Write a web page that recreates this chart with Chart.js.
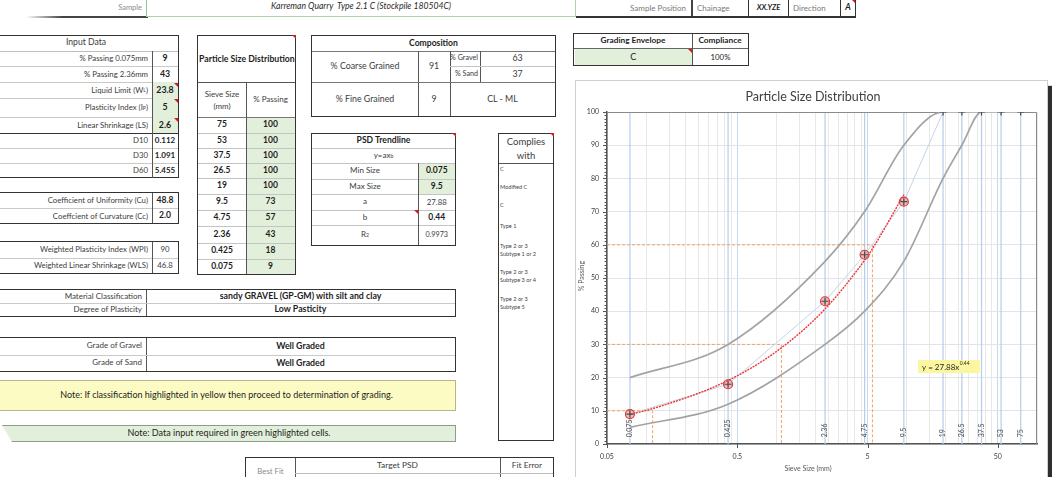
<!DOCTYPE html>
<html>
<head>
<meta charset="utf-8">
<script src="https://cdn.jsdelivr.net/npm/chart.js@4.4.1/dist/chart.umd.min.js"></script>
<style>
html,body{margin:0;padding:0;background:#fff;}
body{width:1052px;height:477px;overflow:hidden;position:relative;font-family:Lato,"Open Sans",sans-serif;}
.c{position:absolute;display:flex;align-items:center;justify-content:center;text-align:center;white-space:nowrap;box-sizing:border-box;font-size:8px;color:#1e1e1e;line-height:1.15;}
.r{justify-content:flex-end;padding-right:4px;text-align:right;}
.l{justify-content:flex-start;padding-left:3px;text-align:left;}
.b{font-weight:700;}
.i{font-style:italic;}
.g{background:#e2efda;}
.m{color:#3c3c3c;}
.box{position:absolute;box-sizing:border-box;border:1.5px solid #333;}
.ln{position:absolute;}
.tri{position:absolute;width:0;height:0;border-top:4px solid #d41c1c;border-left:4px solid transparent;}
sub{font-size:65%;vertical-align:-2px;line-height:0;}
sup{font-size:65%;vertical-align:3px;line-height:0;}
#frame{position:absolute;left:575px;top:80px;width:473px;height:420px;box-sizing:border-box;border:1px solid #cfcfcf;box-shadow:4px 6px 1px #2e2e2e;background:#fff;}
#psd{position:absolute;left:576px;top:81px;}
</style>
</head>
<body>
<div id="sheet"></div>
<div id="frame"></div>
<canvas id="psd" width="470" height="396"></canvas>
<script>
// ---- sieve analysis ----
const sieveSizes = [75, 53, 37.5, 26.5, 19, 9.5, 4.75, 2.36, 0.425, 0.075];
const sieveLabels = ['75', '53', '37.5', '26.5', '19', '9.5', '4.75', '2.36', '0.425', '0.075'];
const percentPassing = [100, 100, 100, 100, 100, 73, 57, 43, 18, 9];

// ---- grading envelope C, limits at the same sieves ----
const envelopeUpper = [100, 100, 100, 100, 100, 90, 70, 55, 30, 20];
const envelopeLower = [100, 100, 100, 90, 80, 55, 40, 30, 12, 5];

// ---- power-law trendline y = a * x^b ----
const trendA = 27.88;
const trendB = 0.44;
const trendMinSize = 0.075;
const trendMaxSize = 9.5;
const trendR2 = 0.9973;

// ---- characteristic sizes ----
const dLabels = ['D10', 'D30', 'D60'];
const dPercents = [10, 30, 60];
const dSizes = [0.112, 1.091, 5.455];

// ---- axis ticks ----
const xTickValues = [0.05, 0.5, 5, 50];
const xTickLabels = ['0.05', '0.5', '5', '50'];
const xAxisMax = 100;

// ---- sheet values ----
const inputLabels = ['% Passing 0.075mm', '% Passing 2.36mm', 'Liquid Limit (W<sub>L</sub>)', 'Plasticity Index (I<sub>P</sub>)', 'Linear Shrinkage (LS)'];
const inputValues = ['9', '43', '23.8', '5', '2.6'];
const coeffLabels = ['Coefficient of Uniformity (Cu)', 'Coeffcient of Curvature (Cc)'];
const coeffValues = ['48.8', '2.0'];
const weightedLabels = ['Weighted Plasticity Index (WPI)', 'Weighted Linear Shrinkage (WLS)'];
const weightedValues = ['90', '46.8'];
const compliesList = ['C', 'Modified C', 'C', 'Type 1', 'Type 2 or 3<br>Subtype 1 or 2', 'Type 2 or 3<br>Subtype 3 or 4', 'Type 2 or 3<br>Subtype 5'];

const FONT = 'Lato, "Open Sans", sans-serif';
const sheet = document.getElementById('sheet');

function cell(x, y, w, h, html, cls, css) {
  const d = document.createElement('div');
  d.className = 'c ' + (cls || '');
  Object.assign(d.style, { left: x + 'px', top: y + 'px', width: w + 'px', height: h + 'px' }, css || {});
  d.innerHTML = html;
  sheet.appendChild(d);
  return d;
}
function box(x, y, w, h, css) {
  const d = document.createElement('div');
  d.className = 'box';
  Object.assign(d.style, { left: x + 'px', top: y + 'px', width: w + 'px', height: h + 'px' }, css || {});
  sheet.appendChild(d);
  return d;
}
function hline(x1, x2, y, color, wdt) {
  const d = document.createElement('div');
  d.className = 'ln';
  Object.assign(d.style, { left: x1 + 'px', top: y + 'px', width: (x2 - x1) + 'px', height: (wdt || 1) + 'px', background: color || '#c8c8c8' });
  sheet.appendChild(d);
}
function vline(x, y1, y2, color, wdt) {
  const d = document.createElement('div');
  d.className = 'ln';
  Object.assign(d.style, { left: x + 'px', top: y1 + 'px', width: (wdt || 1) + 'px', height: (y2 - y1) + 'px', background: color || '#555' });
  sheet.appendChild(d);
}
function tri(xRight, yTop) {
  const d = document.createElement('div');
  d.className = 'tri';
  d.style.left = (xRight - 4) + 'px';
  d.style.top = yTop + 'px';
  sheet.appendChild(d);
}

// ---- header row ----
cell(20, 0, 126, 16, 'Sample', 'r', { color: '#8a8a8a', fontSize: '7.5px' });
const ul = document.createElement('div');
Object.assign(ul.style, { position: 'absolute', left: '26px', top: '16px', width: '122px', height: '1.5px', background: 'linear-gradient(to right, rgba(60,60,60,0), #444 30%)' });
sheet.appendChild(ul);
cell(146, -2, 430, 19, 'Karreman Quarry&nbsp; Type 2.1 C (Stockpile 180504C)', 'i', { fontSize: '8.6px', color: '#2a2a2a', borderLeft: '1.5px solid #8cc596', borderBottom: '1px solid #a8d5b0', borderRight: '1px solid #a8d5b0' });
cell(576, 0, 114, 17, 'Sample Position', 'r', { color: '#7a7a7a' });
vline(691, 0, 17, '#444', 1.5);
cell(694, 0, 50, 17, 'Chainage', 'l', { color: '#7a7a7a' });
box(748, -2, 41, 19);
cell(749, 0, 39, 16, 'XX.YZE', 'b i', { fontSize: '7.5px' });
cell(790, 0, 48, 17, 'Direction', 'l', { color: '#7a7a7a' });
box(840, -2, 16, 19);
cell(841, 0, 14, 16, 'A', 'b i', { fontSize: '8.5px' });
tri(855, -1);
hline(576, 856, 16, '#333', 1.5);

// ---- grading envelope ----
box(573, 33, 176, 33);
cell(574, 34, 118, 14, 'Grading Envelope', 'b', { fontSize: '8.3px' });
cell(692, 34, 56, 14, 'Compliance', 'b', { fontSize: '8.3px' });
hline(574, 748, 48, '#666');
vline(692, 34, 65, '#555');
cell(574.5, 49, 117.5, 15.5, 'C', 'g', { fontSize: '9px' });
cell(693, 49, 55, 16, '100%', '', { fontSize: '7.8px' });
tri(692, 49);

// ---- input data ----
box(-3, 35, 182, 143);
cell(0, 35, 172, 16, 'Input Data', 'm', { fontSize: '8.6px' });
const inputRows = [51, 66, 82, 98, 117, 133];
hline(0, 178, 51, '#bdbdbd');
for (let i = 0; i < inputLabels.length; i++) {
  const y0 = inputRows[i], y1 = inputRows[i + 1];
  const green = i >= 2;
  cell(0, y0, 152, y1 - y0, inputLabels[i], 'r m', { fontSize: '7.8px' });
  cell(152.5, y0, 25, y1 - y0, inputValues[i], 'b' + (green ? ' g' : ''), { fontSize: '8.8px' });
  if (i < inputLabels.length - 1) hline(0, 178, y1, '#c9c9c9');
  if (green) tri(178, y0 + 0.5);
}
hline(-3, 179, 132.5, '#333', 1.5);
const dRows = [133, 148, 163, 178];
for (let i = 0; i < dLabels.length; i++) {
  cell(0, dRows[i], 152, 15, dLabels[i], 'r m', { fontSize: '7.8px' });
  cell(152.5, dRows[i], 25, 15, String(dSizes[i].toFixed(3)), 'b', { fontSize: '8px' });
  if (i < 2) hline(0, 178, dRows[i + 1], '#c9c9c9');
}
vline(152, 51, 178, '#555');

box(-3, 192, 182, 32);
for (let i = 0; i < 2; i++) {
  cell(0, 193 + i * 15.5, 152, 15, coeffLabels[i], 'r m', { fontSize: '7.8px' });
  cell(152.5, 193 + i * 15.5, 25, 15, coeffValues[i], 'b', { fontSize: '8.6px' });
}
hline(0, 178, 208, '#c9c9c9');
vline(152, 193, 223, '#555');

box(-3, 241, 182, 33);
for (let i = 0; i < 2; i++) {
  cell(0, 242 + i * 16, 152, 15.5, weightedLabels[i], 'r m', { fontSize: '7.8px' });
  cell(152.5, 242 + i * 16, 25, 15.5, weightedValues[i], 'm', { fontSize: '7.8px' });
}
hline(0, 178, 257.5, '#c9c9c9');
vline(152, 242, 273, '#555');

// ---- particle size distribution table ----
box(197, 35, 99, 240);
cell(198, 36, 97, 46, 'Particle Size Distribution', 'b', { fontSize: '8.7px', overflow: 'hidden', justifyContent: 'flex-start', paddingLeft: '1px' });
tri(296, 35);
hline(198, 295, 82, '#555');
cell(198, 82, 48, 35, 'Sieve Size<br>(mm)', 'm', { fontSize: '8px', lineHeight: '1.5' });
cell(246, 82, 49, 35, '% Passing', 'm', { fontSize: '8px' });
hline(198, 295, 117, '#777');
const psdRows = [117, 133, 148, 163, 178, 194, 210, 226, 243, 259, 274];
for (let i = 0; i < sieveSizes.length; i++) {
  const y0 = psdRows[i], y1 = psdRows[i + 1];
  cell(198, y0, 48, y1 - y0, sieveLabels[i], 'b', { fontSize: '8.5px' });
  cell(246.5, y0 + 0.5, 48, y1 - y0 - 0.5, String(percentPassing[i]), 'b g', { fontSize: '8.5px' });
  if (i < sieveSizes.length - 1) hline(198, 295, y1, '#c4c4c4');
}
vline(246, 82, 274, '#555');

// ---- composition ----
box(311, 35, 245, 82);
cell(312, 36, 243, 15, 'Composition', 'b', { fontSize: '8.6px' });
hline(312, 555, 51, '#777');
vline(418, 51, 116, '#555');
vline(450, 51, 116, '#555');
vline(480, 51, 82, '#555');
hline(450, 555, 66, '#c4c4c4');
hline(312, 555, 82, '#777');
const compCss = { fontSize: '8.8px' };
cell(312, 51, 106, 31, '% Coarse Grained', 'm', compCss);
cell(418, 51, 32, 31, '91', 'm', compCss);
cell(451, 51, 29, 15, '% Gravel', 'r m', { fontSize: '7.2px', paddingRight: '2px' });
cell(480, 51, 75, 15, '63', 'm', compCss);
cell(451, 66, 29, 16, '% Sand', 'r m', { fontSize: '7.2px', paddingRight: '2px' });
cell(480, 66, 75, 16, '37', 'm', compCss);
cell(312, 82, 106, 34, '% Fine Grained', 'm', compCss);
cell(418, 82, 32, 34, '9', 'm', compCss);
cell(450, 82, 105, 34, 'CL - ML', 'm', compCss);

// ---- PSD trendline ----
box(311, 133, 145, 113);
tri(456, 133);
const trRows = [133, 148, 163, 179, 194, 210, 225, 245];
cell(312, 134, 143, 14, 'PSD Trendline', 'b', { fontSize: '8.6px' });
cell(312, 148, 143, 15, 'y=ax<sup>b</sup>', 'm', { fontSize: '8px' });
const trendRowLabels = ['Min Size', 'Max Size', 'a', 'b', 'R<sup>2</sup>'];
const trendRowValues = [String(trendMinSize), String(trendMaxSize), trendA.toFixed(2), trendB.toFixed(2), String(trendR2)];
const trendRowCls = ['b g', 'b g', 'm', 'b', 'm'];
for (let i = 0; i < trendRowLabels.length; i++) {
  const y0 = trRows[i + 2], y1 = trRows[i + 3];
  cell(312, y0, 106, y1 - y0, trendRowLabels[i], 'm', { fontSize: '8px' });
  cell(418.5, y0 + 0.5, 36.5, y1 - y0 - 0.5, trendRowValues[i], trendRowCls[i], { fontSize: i === 4 ? '7.2px' : (i === 2 ? '7.8px' : '8.5px') });
}
for (let k = 1; k < trRows.length - 1; k++) hline(312, 455, trRows[k], '#c4c4c4');
vline(418, 163, 245, '#555');
tri(418, 210);

// ---- complies with ----
box(498, 133, 56, 308);
tri(554, 133);
cell(499, 134, 54, 29, 'Complies<br>with', 'm', { fontSize: '9.5px', lineHeight: '1.45' });
hline(499, 553, 163, '#555');
const compliesY = [169, 187, 205, 226, 250, 276, 303];
compliesList.forEach((t, i) => {
  cell(499, compliesY[i] - 7, 54, 14, t, 'l', { fontSize: '5.6px', color: '#444', paddingLeft: '1px', lineHeight: '1.35' });
});

// ---- classification ----
box(-3, 289, 459, 28);
vline(146, 290, 316, '#555');
hline(0, 455, 302.5, '#c9c9c9');
cell(0, 290, 146, 12.5, 'Material Classification', 'r m', { fontSize: '8px' });
cell(146, 290, 309, 12.5, 'sandy GRAVEL (GP-GM) with silt and clay', 'b', { fontSize: '8.8px' });
cell(0, 303, 146, 13, 'Degree of Plasticity', 'r m', { fontSize: '8px' });
cell(146, 303, 309, 13, 'Low Pasticity', 'b', { fontSize: '8.8px' });

box(-3, 337, 459, 35);
vline(146, 338, 371, '#555');
hline(0, 455, 354.5, '#c9c9c9');
cell(0, 338, 146, 16, 'Grade of Gravel', 'r m', { fontSize: '8px' });
cell(146, 338, 309, 16, 'Well Graded', 'b', { fontSize: '8.8px' });
cell(0, 355, 146, 16, 'Grade of Sand', 'r m', { fontSize: '8px' });
cell(146, 355, 309, 16, 'Well Graded', 'b', { fontSize: '8.8px' });

// ---- notes ----
cell(-3, 380, 459, 31, 'Note: If classification highlighted in yellow then proceed to determination of grading.', '', { fontSize: '9px', background: '#fcfbc4', border: '1px solid #b9b58e' });
cell(2, 425, 454, 17, 'Note: Data input required in green highlighted cells.', '', { fontSize: '9px', background: '#e2efda', border: '1px solid #8d9c88', clipPath: 'polygon(0 0, 100% 0, 100% 100%, 10px 100%)' });

// ---- best fit ----
box(245, 457, 309, 30);
vline(295, 458, 480, '#555');
vline(500, 458, 480, '#555');
hline(295, 553, 473, '#bdbdbd');
cell(246, 462, 49, 18, 'Best Fit', 'm', { color: '#8a8a8a', fontSize: '7.8px' });
cell(295, 458, 205, 15, 'Target PSD', 'm', { fontSize: '8.4px' });
cell(500, 458, 54, 15, 'Fit Error', 'm', { fontSize: '8.4px' });

// ---------------- chart ----------------
const order = sieveSizes.map((s, i) => i).sort((a, b) => sieveSizes[a] - sieveSizes[b]);
const asPoints = vals => order.map(i => ({ x: sieveSizes[i], y: vals[i] }));

const trendSizes = [...sieveSizes.filter(s => s >= trendMinSize && s <= trendMaxSize), ...dSizes].sort((a, b) => a - b);
const trendPoints = trendSizes.map(s => ({ x: s, y: trendA * Math.pow(s, trendB) }));
const fitPoints = asPoints(percentPassing).filter(p => p.x >= trendMinSize && p.x <= trendMaxSize);

const xMin = xTickValues[0];
const gridValues = [];
xTickValues.forEach(dec => { for (let k = 1; k <= 9; k++) { const v = +(dec * k).toPrecision(6); if (v <= xAxisMax) gridValues.push(v); } });
const isMajor = v => xTickValues.some(t => Math.abs(t - v) < 1e-9);

const guideSets = dSizes.map((d, i) => ({
  data: [{ x: xMin, y: dPercents[i] }, { x: d, y: dPercents[i] }, { x: d, y: 0 }],
  showLine: true, borderColor: '#f2a35e', borderWidth: 1, borderDash: [3, 2],
  pointRadius: 0, tension: 0, order: 9
}));

const decor = {
  id: 'decor',
  beforeDatasetsDraw(chart) {
    const { ctx, chartArea: a, scales: { x, y } } = chart;
    ctx.save();
    // sieve verticals
    ctx.strokeStyle = '#b7cde8';
    ctx.lineWidth = 1.2;
    sieveSizes.forEach(s => {
      const px = x.getPixelForValue(s);
      ctx.beginPath(); ctx.moveTo(px, a.top); ctx.lineTo(px, a.bottom); ctx.stroke();
    });
    // sieve labels
    ctx.fillStyle = '#4a4a4a';
    ctx.font = '7px ' + FONT;
    ctx.textAlign = 'left';
    ctx.textBaseline = 'middle';
    sieveSizes.forEach((s, i) => {
      ctx.save();
      ctx.translate(x.getPixelForValue(s), y.getPixelForValue(2));
      ctx.rotate(-Math.PI / 2);
      ctx.fillText(sieveLabels[i], 0, 0);
      ctx.restore();
    });
    // plot frame top / right
    ctx.strokeStyle = '#8a8a8a';
    ctx.lineWidth = 1;
    ctx.beginPath();
    ctx.moveTo(a.left, a.top + 0.5); ctx.lineTo(a.right - 0.5, a.top + 0.5); ctx.lineTo(a.right - 0.5, a.bottom);
    ctx.stroke();
    // y axis minor ticks
    ctx.strokeStyle = '#555';
    for (let v = 0; v <= 100; v++) {
      const py = Math.round(y.getPixelForValue(v)) + 0.5;
      const len = v % 10 === 0 ? 4 : 2.5;
      ctx.beginPath(); ctx.moveTo(a.left - len, py); ctx.lineTo(a.left, py); ctx.stroke();
    }
    // x axis major ticks
    xTickValues.forEach(v => {
      const px = Math.round(x.getPixelForValue(v)) + 0.5;
      ctx.beginPath(); ctx.moveTo(px, a.bottom); ctx.lineTo(px, a.bottom + 4); ctx.stroke();
    });
    ctx.restore();
  },
  afterDraw(chart) {
    const { ctx } = chart;
    ctx.save();
    ctx.fillStyle = '#404040';
    ctx.textAlign = 'center';
    ctx.textBaseline = 'middle';
    ctx.font = '12.5px ' + FONT;
    ctx.fillText('Particle Size Distribution', 237, 16);
    ctx.font = '7px ' + FONT;
    ctx.fillStyle = '#595959';
    ctx.fillText('Sieve Size (mm)', 232, 388);
    ctx.save();
    ctx.translate(6, 195);
    ctx.rotate(-Math.PI / 2);
    ctx.fillText('% Passing', 0, 0);
    ctx.restore();
    // trendline equation
    ctx.fillStyle = '#fbf7a0';
    ctx.fillRect(342, 279, 62, 13);
    ctx.fillStyle = '#262626';
    ctx.textAlign = 'left';
    ctx.font = '8px ' + FONT;
    const eq = 'y = ' + trendA.toFixed(2) + 'x';
    ctx.fillText(eq, 346, 286);
    const w = ctx.measureText(eq).width;
    ctx.font = '5px ' + FONT;
    ctx.fillText(trendB.toFixed(2), 346 + w + 0.5, 282.5);
    ctx.restore();
  }
};

new Chart(document.getElementById('psd'), {
  type: 'scatter',
  data: {
    datasets: [
      ...guideSets,
      { data: asPoints(envelopeUpper), showLine: true, borderColor: '#a3a3a3', borderWidth: 1.7, pointRadius: 0, cubicInterpolationMode: 'monotone', order: 8 },
      { data: asPoints(envelopeLower), showLine: true, borderColor: '#a3a3a3', borderWidth: 1.7, pointRadius: 0, cubicInterpolationMode: 'monotone', order: 7 },
      { data: asPoints(percentPassing), showLine: true, borderColor: '#c3d5ea', borderWidth: 1, pointRadius: 0, tension: 0, order: 6 },
      { data: trendPoints, showLine: true, borderColor: '#ee3434', borderWidth: 1.4, borderDash: [2, 1], pointRadius: 0, cubicInterpolationMode: 'monotone', order: 3 },
      { data: fitPoints, showLine: false, pointStyle: 'circle', pointRadius: 4.5, pointBorderWidth: 1.2, pointBorderColor: '#d83c3c', pointBackgroundColor: 'rgba(232,110,110,0.45)', order: 2 },
      { data: asPoints(percentPassing), showLine: false, pointStyle: 'cross', pointRadius: 3.5, pointBorderWidth: 1.2, pointBorderColor: '#4a4a4a', order: 1 }
    ]
  },
  options: {
    responsive: false,
    animation: false,
    devicePixelRatio: 1,
    layout: { padding: { left: 0, top: 31, right: 8, bottom: 0 } },
    plugins: { legend: { display: false }, tooltip: { enabled: false }, title: { display: false } },
    events: [],
    scales: {
      x: {
        type: 'logarithmic', min: xMin, max: xAxisMax,
        afterBuildTicks: s => { s.ticks = gridValues.map(v => ({ value: v })); },
        afterFit: s => { s.height = 33; },
        ticks: {
          autoSkip: false, maxRotation: 0, minRotation: 0, padding: 9,
          font: { size: 7, family: FONT }, color: '#404040',
          callback: v => { const i = xTickValues.findIndex(t => Math.abs(t - v) < 1e-9); return i >= 0 ? xTickLabels[i] : ''; }
        },
        grid: { color: c => (c.tick && isMajor(c.tick.value)) ? '#c9d9ec' : '#e8e8e8', lineWidth: 1, drawTicks: false },
        border: { color: '#555', width: 1.5 }
      },
      y: {
        min: 0, max: 100,
        afterFit: s => { s.width = 31; },
        ticks: { stepSize: 10, padding: 8, font: { size: 7, family: FONT }, color: '#404040' },
        grid: { color: '#dfe5ec', lineWidth: 1, drawTicks: false },
        border: { color: '#555', width: 1.5 }
      }
    }
  },
  plugins: [decor]
});
</script>
</body>
</html>
